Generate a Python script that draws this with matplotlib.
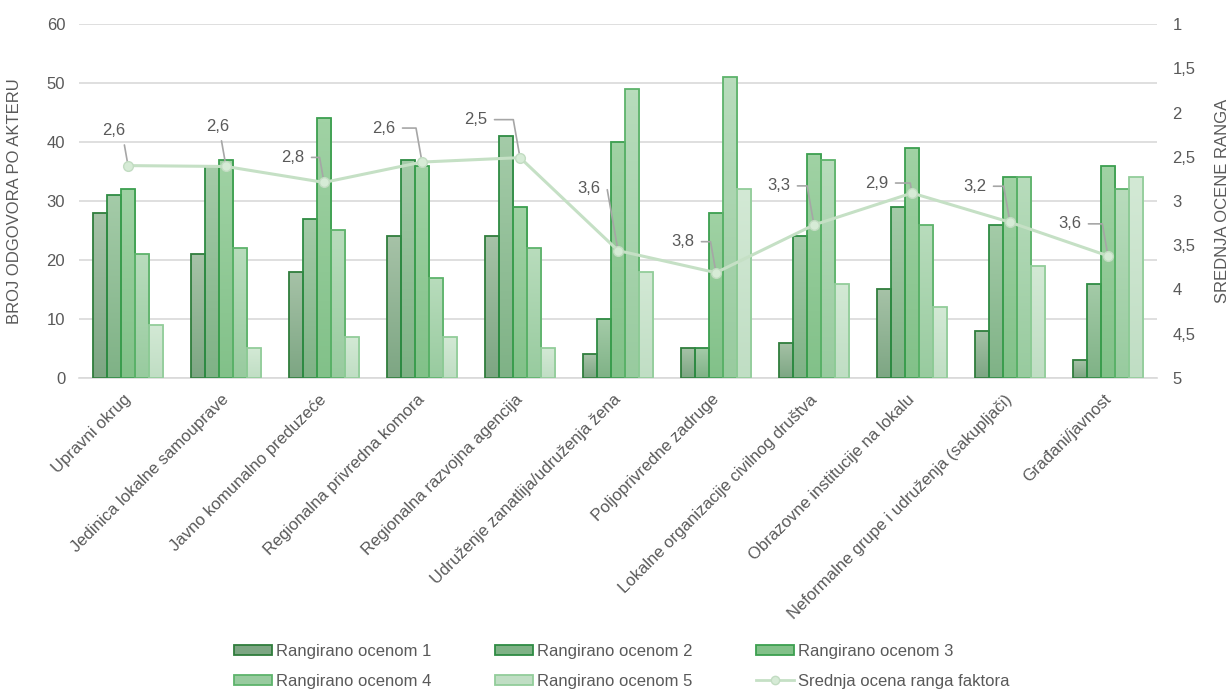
import numpy as np
import matplotlib
matplotlib.use('Agg')
import matplotlib.pyplot as plt
from matplotlib.colors import LinearSegmentedColormap
from matplotlib.patches import Patch
from matplotlib.lines import Line2D

plt.rcParams['font.family'] = ['Liberation Sans', 'DejaVu Sans']

# podaci procitani sa grafika
akteri = ['Upravni okrug', 'Jedinica lokalne samouprave', 'Javno komunalno preduzeće',
          'Regionalna privredna komora', 'Regionalna razvojna agencija',
          'Udruženje zanatlija/udruženja žena', 'Poljoprivredne zadruge',
          'Lokalne organizacije civilnog društva', 'Obrazovne institucije na lokalu',
          'Neformalne grupe i udruženja (sakupljači)', 'Građani/javnost']
ocena1 = [28, 21, 18, 24, 24, 4, 5, 6, 15, 8, 3]
ocena2 = [31, 36, 27, 37, 41, 10, 5, 24, 29, 26, 16]
ocena3 = [32, 37, 44, 36, 29, 40, 28, 38, 39, 34, 36]
ocena4 = [21, 22, 25, 17, 22, 49, 51, 37, 26, 34, 32]
ocena5 = [9, 5, 7, 7, 5, 18, 32, 16, 12, 19, 34]
prosek = [2.60, 2.61, 2.79, 2.56, 2.51, 3.56, 3.81, 3.27, 2.91, 3.24, 3.62]
serije = ['Rangirano ocenom 1', 'Rangirano ocenom 2', 'Rangirano ocenom 3',
          'Rangirano ocenom 4', 'Rangirano ocenom 5']

# stil: (gore, dole, ivica)
boje = [('#a6c2a7', '#7da683', '#2f7d3c'),
        ('#a4cba8', '#7fb286', '#2e8b43'),
        ('#a0d2a4', '#82c189', '#3c9f4f'),
        ('#b8dcbc', '#98cb9f', '#5db36b'),
        ('#d3e9d5', '#c0dec4', '#92cd9a')]
pomeraji = [(-14, 35), (-8, 40), (-31, 25), (-38, 34), (-44, 38), (-29, 62),
            (-33, 31), (-35, 39), (-35, 10), (-35, 36), (-38, 32)]

siva = '#595959'
fs = 12
fig = plt.figure(figsize=(12.29, 6.9), dpi=100)
ax = fig.add_axes([0.0643, 0.4522, 0.8771, 0.513])
x = np.arange(len(akteri))
w = 0.143

for k, vals in enumerate([ocena1, ocena2, ocena3, ocena4, ocena5]):
    top, bot, ivica = boje[k]
    cmap = LinearSegmentedColormap.from_list('g%d' % k, [bot, top])
    grad = np.linspace(0, 1, 64).reshape(-1, 1)
    bars = ax.bar(x + (k - 2) * w, vals, w, facecolor='none', edgecolor=ivica,
                  linewidth=1.3, zorder=3)
    for b in bars:
        bx, by = b.get_x(), b.get_y()
        im = ax.imshow(grad, cmap=cmap, origin='lower', aspect='auto',
                       extent=(bx, bx + b.get_width(), by, by + b.get_height()),
                       zorder=2)
        im.set_clip_path(b)

ax.set_xlim(-0.5, len(akteri) - 0.5)
ax.set_ylim(0, 60)
ax.set_yticks(range(0, 61, 10))
ax.grid(axis='y', color='#d9d9d9', linewidth=1.2, zorder=0)
for s in ['top', 'right', 'left']:
    ax.spines[s].set_visible(False)
ax.spines['bottom'].set_color('#d9d9d9')
ax.spines['bottom'].set_linewidth(1.2)
ax.tick_params(axis='y', length=0, colors=siva, labelsize=fs, pad=10)
ax.set_xticks(x - 0.05)
ax.set_xticklabels(akteri, rotation=45, ha='right', rotation_mode='anchor')
ax.tick_params(axis='x', length=0, colors=siva, pad=10, labelsize=fs)
ax.set_ylabel('BROJ ODGOVORA PO AKTERU', color=siva, fontsize=fs, labelpad=18)

ax2 = ax.twinx()
ax2.plot(x, prosek, color='#c5e0c5', linewidth=2.2, marker='o', markersize=7,
         markerfacecolor='#d6ebd6', markeredgecolor='#c2dcc2', zorder=5)
ax2.set_ylim(5, 1)
ax2.set_yticks([1, 1.5, 2, 2.5, 3, 3.5, 4, 4.5, 5])
ax2.set_yticklabels(['1', '1,5', '2', '2,5', '3', '3,5', '4', '4,5', '5'])
for s in ax2.spines.values():
    s.set_visible(False)
ax2.tick_params(axis='y', length=0, colors=siva, labelsize=fs, pad=11)
ax2.set_ylabel('SREDNJA OCENE RANGA', color=siva, fontsize=fs, labelpad=14)

for i, v in enumerate(prosek):
    ax2.annotate(('%.1f' % v).replace('.', ','), (x[i], v), xytext=pomeraji[i],
                 textcoords='offset pixels', ha='center', va='center',
                 fontsize=fs, color=siva,
                 arrowprops=dict(arrowstyle='-', color='#a6a6a6', lw=1.2,
                                 shrinkA=3, shrinkB=3,
                                 connectionstyle='angle,angleA=0,angleB=100,rad=0'))

ruke = [Patch(facecolor=boje[k][1], edgecolor=boje[k][2], linewidth=1.3)
        for k in range(5)]
ruke.append(Line2D([], [], color='#c5e0c5', linewidth=2, marker='o', markersize=6,
                   markerfacecolor='#d6ebd6', markeredgecolor='#c2dcc2'))
imena = serije + ['Srednja ocena ranga faktora']
red = [0, 3, 1, 4, 2, 5]
fig.legend([ruke[i] for i in red], [imena[i] for i in red], ncol=3,
           loc='lower center', bbox_to_anchor=(0.506, -0.02), frameon=False,
           fontsize=fs, labelcolor=siva, handlelength=2.28, handleheight=0.5,
           handletextpad=0.24, columnspacing=3.8, labelspacing=0.9)

fig.savefig('out.png', dpi=100)
